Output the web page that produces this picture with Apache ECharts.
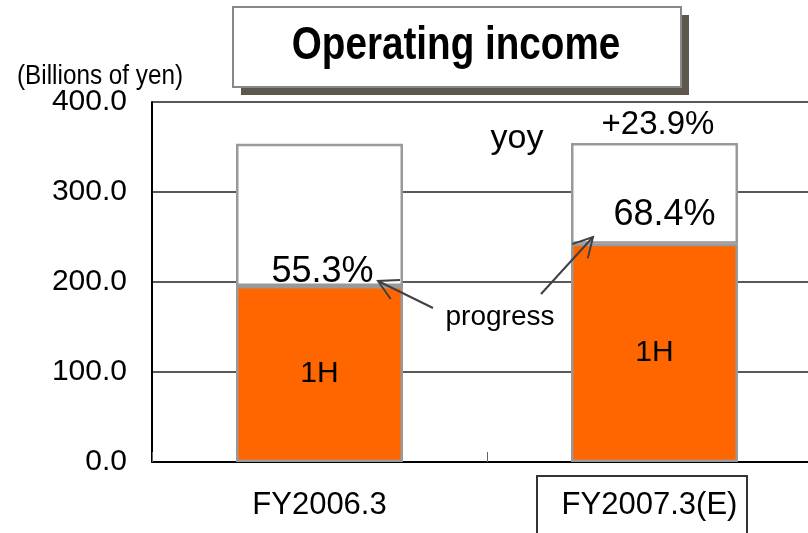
<!DOCTYPE html>
<html>
<head>
<meta charset="utf-8">
<script src="https://cdn.jsdelivr.net/npm/echarts@6/dist/echarts.min.js"></script>
<style>
  html, body { margin: 0; padding: 0; background: #fff; }
  #chart { width: 808px; height: 533px; }
</style>
</head>
<body>
<div id="chart"></div>
<script>
// 营业利润 (Billions of yen)
const categories = ['FY2006.3', 'FY2007.3(E)']
const firstHalf = [195.6, 242.4]
const fullYear = [353.7, 354.4]
const yTicks = [0, 100, 200, 300, 400]

const secondHalf = fullYear.map((v, i) => +(v - firstHalf[i]).toFixed(1))
const progress = firstHalf.map((v, i) => (v / fullYear[i] * 100).toFixed(1) + '%')
const yoy = '+' + ((firstHalf[1] / firstHalf[0] - 1) * 100).toFixed(1) + '%'

const font = 'Liberation Sans, Arial, sans-serif'
const barBorder = '#999'

// 箭头: 线 + 两条边
const arrow = (x1, y1, x2, y2) => {
    const a = Math.atan2(y2 - y1, x2 - x1)
    const len = 22, spread = 0.5
    const p1 = [x2 - len * Math.cos(a - spread), y2 - len * Math.sin(a - spread)]
    const p2 = [x2 - len * Math.cos(a + spread), y2 - len * Math.sin(a + spread)]
    const style = { stroke: '#404040', lineWidth: 2, fill: null }
    return [
        { type: 'line', shape: { x1, y1, x2, y2 }, style, z: 20 },
        { type: 'polyline', shape: { points: [p1, [x2, y2], p2] }, style, z: 20 }
    ]
}

const pctLabelOffsets = [[3, 4], [10, -11]]

const chart = echarts.init(document.getElementById('chart'))
chart.setOption({
    animation: false,
    grid: { left: 152, top: 102, width: 670, bottom: 71, outerBoundsMode: 'none' },
    xAxis: {
        type: 'category',
        data: categories,
        axisLine: { lineStyle: { color: '#000', width: 2 } },
        axisTick: { show: true, inside: true, length: 10, lineStyle: { color: '#666', width: 1 } },
        axisLabel: {
            color: '#000', fontFamily: font, fontSize: 31, margin: 28,
            formatter: (v, i) => i === 1 ? '{e|' + v + '}' : v,
            rich: { e: { fontFamily: font, fontSize: 31, color: '#000', padding: [0, 10, 0, 0] } }
        }
    },
    yAxis: {
        type: 'value',
        min: yTicks[0],
        max: yTicks[yTicks.length - 1],
        interval: 100,
        axisLine: { show: true, lineStyle: { color: '#000', width: 2 } },
        axisTick: { show: false },
        splitLine: { lineStyle: { color: '#222', width: 1.5 } },
        axisLabel: {
            color: '#000', fontFamily: font, fontSize: 30, margin: 25,
            formatter: v => v.toFixed(1)
        }
    },
    series: [
        {
            name: '1H',
            type: 'bar',
            stack: 'total',
            barWidth: 167,
            data: firstHalf,
            itemStyle: { color: '#ff6600', borderColor: barBorder, borderWidth: 2.5 },
            label: {
                show: true, position: 'inside', formatter: '1H',
                color: '#000', fontFamily: font, fontSize: 30
            },
            z: 3
        },
        {
            name: '2H',
            type: 'bar',
            stack: 'total',
            barWidth: 167,
            data: secondHalf.map((v, i) => ({
                value: v,
                label: {
                    show: true, position: 'insideBottom', distance: 0,
                    offset: pctLabelOffsets[i], formatter: progress[i],
                    color: '#000', fontFamily: font, fontSize: 36
                }
            })),
            itemStyle: { color: '#fff', borderColor: barBorder, borderWidth: 2.5 },
            z: 2
        }
    ],
    graphic: [
        // 标题框
        { type: 'rect', shape: { x: 241, y: 15, width: 448, height: 80 }, style: { fill: '#5e574e' }, z: 10 },
        { type: 'rect', shape: { x: 233, y: 7, width: 448, height: 80 }, style: { fill: '#fff', stroke: '#888', lineWidth: 2 }, z: 11 },
        {
            type: 'text', x: 456, y: 46, scaleX: 0.84, z: 12,
            style: { text: 'Operating income', font: 'bold 46px ' + font, fill: '#000', textAlign: 'center', textVerticalAlign: 'middle' }
        },
        {
            type: 'text', x: 17, y: 77, scaleX: 0.9,
            style: { text: '(Billions of yen)', font: '27px ' + font, fill: '#000', textAlign: 'left', textVerticalAlign: 'middle' }
        },
        {
            type: 'text', x: 517, y: 139, z: 20,
            style: { text: 'yoy', font: '34px ' + font, fill: '#000', textAlign: 'center', textVerticalAlign: 'middle' }
        },
        {
            type: 'text', x: 658, y: 125, z: 20,
            style: { text: yoy, font: '33px ' + font, fill: '#000', textAlign: 'center', textVerticalAlign: 'middle' }
        },
        {
            type: 'text', x: 500, y: 317, z: 20,
            style: { text: 'progress', font: '28px ' + font, fill: '#000', textAlign: 'center', textVerticalAlign: 'middle' }
        },
        ...arrow(433, 308, 378, 281),
        ...arrow(541, 294, 593, 237),
        // FY2007.3(E) 框
        { type: 'rect', shape: { x: 537, y: 476, width: 210, height: 70 }, style: { fill: null, stroke: '#333', lineWidth: 2 }, z: 20 }
    ]
})
</script>
</body>
</html>
